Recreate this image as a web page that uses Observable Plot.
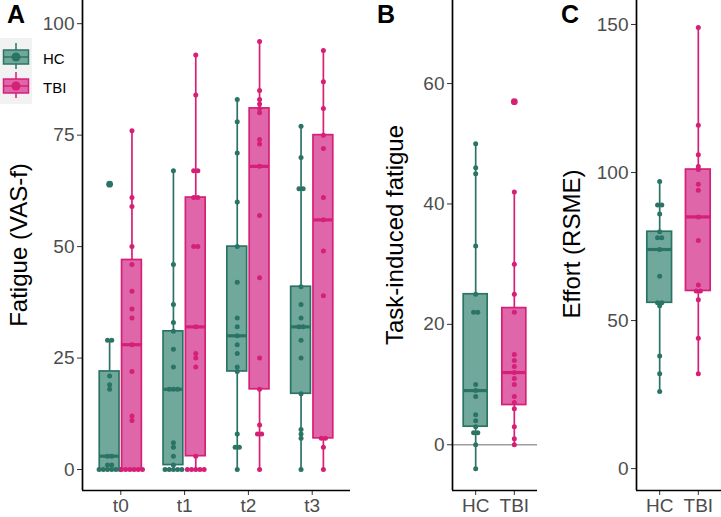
<!DOCTYPE html>
<html><head><meta charset="utf-8">
<script src="https://cdn.jsdelivr.net/npm/d3@7"></script>
<script src="https://cdn.jsdelivr.net/npm/@observablehq/plot@0.6"></script>
<style>
body{margin:0;background:#fff;font-family:"Liberation Sans",Arial,sans-serif;}
#wrap{position:relative;width:721px;height:517px;overflow:hidden;background:#fff;}
.panel{position:absolute;top:0;}
.tag{position:absolute;font-weight:bold;font-size:25px;line-height:1;color:#000;}
.ytitle{position:absolute;font-size:24px;line-height:1;color:#000;white-space:nowrap;transform:translate(-50%,-50%) rotate(-90deg);}
.ltext{position:absolute;font-size:15px;line-height:1;color:#000;}
</style></head><body><div id="wrap"></div>
<script>
// ---------- data ----------
const times = ["t0", "t1", "t2", "t3"];
const groups = ["HC", "TBI"];

// Panel A: fatigue (VAS-f) individual values per time point
const fatigueHC = [
  [0,0,0,0,0,0,1,1,3,3,18,19,21,29,29,64],
  [0,0,0,0,0,1,3,5,6,18,18,18,23,27,31,33,37,46,67],
  [0,5,5,8,22,23,26,28,30,32,34,42,50,60,71,78,83],
  [0,7,8,9,17,25,29,32,32,34,37,41,63,63,70,77]
];
const fatigueTBI = [
  [0,0,0,0,0,0,11,12,22,28,34,36,40,46,50,59,61,76],
  [0,0,0,0,0,3,23,25,26,32,50,50,61,61,67,67,84,93],
  [0,8,8,10,18,25,43,57,68,73,74,80,81,82,83,85,96],
  [0,5,7,7,39,49,56,61,72,75,81,87,94]
];
// box stats: [lower whisker, Q1, median, Q3, upper whisker]
const fatigueBoxHC = [[0,0,3,22,29],[0,1,18,31,67],[0,22,30,50,83],[0,17,32,41,77]];
const fatigueBoxTBI = [[0,0,28,47,76],[0,3,32,61,93],[0,18,68,81,96],[0,7,56,75,94]];
const fatigueOutHC = [[64],[],[],[]];
const fatigueOutTBI = [[],[],[],[]];

// Panel B: task-induced fatigue
const taskHC = [-4,0,2,2,3,4,5,8,9,10,22,22,25,33,45,46,50];
const taskTBI = [0,1,3,6,7,8,10,11,12,13,14,15,22,25,30,42,57];
const taskBoxHC = [-4,3,9,25,50];
const taskBoxTBI = [0,6.6,12,22.7,42];
const taskOutHC = [];
const taskOutTBI = [57];

// Panel C: effort (RSME)
const effortHC = [26,32,38,55,56,56,65,74,78,78,80,86,89,89,97];
const effortTBI = [32,44,57,60,60,62,77,85,94,96,101,102,106,116,149];
const effortBoxHC = [26,56,74,80,97];
const effortBoxTBI = [32,60,85,101,149];

// ---------- styles ----------
const strokeCol = ["#2b7465", "#d61f76"];
const fillCol = ["#70a99c", "#e066aa"];

// ---------- helpers ----------
function makeEntries(list) {
  // list: [{xc, half, g, values, box, out}]
  return list;
}
function buildMarks(entries, step) {
  const whiskers = [], boxes = [], dots = [], outs = [];
  for (const e of entries) {
    const [lo, q1, med, q3, hi] = e.box;
    whiskers.push({x: e.xc, y1: lo, y2: q1, g: e.g});
    whiskers.push({x: e.xc, y1: q3, y2: hi, g: e.g});
    boxes.push({x1: e.xc - e.half, x2: e.xc + e.half, q1, q3, med, g: e.g});
    const counts = d3.group(e.values, v => v);
    for (const [v, arr] of counts) {
      const k = arr.length;
      arr.forEach((_, i) => dots.push({x: e.xc + (i - (k - 1) / 2) * step, y: v, g: e.g}));
    }
    for (const o of e.out) outs.push({x: e.xc, y: o, g: e.g});
  }
  return {whiskers, boxes, dots, outs};
}
function panel({entries, xDomain, xTicks, xFmt, yDomain, yTicks, width, mL, mR, stepPx, zeroLine}) {
  const plotW = width - mL - mR;
  const step = stepPx * (xDomain[1] - xDomain[0]) / plotW;
  const m = buildMarks(entries, step);
  return Plot.plot({
    width, height: 517,
    marginLeft: mL, marginRight: mR, marginTop: 0, marginBottom: 27,
    style: {fontSize: "19px", fontFamily: "Liberation Sans, Arial, sans-serif", color: "#4d4d4d", background: "transparent", overflow: "visible"},
    x: {domain: xDomain},
    y: {domain: yDomain},
    color: {type: "identity"},
    marks: [
      zeroLine ? Plot.ruleY([0], {stroke: "#9e9e9e", strokeWidth: 1.6}) : null,
      Plot.ruleX(m.whiskers, {x: "x", y1: "y1", y2: "y2", stroke: d => strokeCol[d.g], strokeWidth: 1.7}),
      Plot.rect(m.boxes, {x1: "x1", x2: "x2", y1: "q1", y2: "q3", fill: d => fillCol[d.g], stroke: d => strokeCol[d.g], strokeWidth: 1.7}),
      Plot.ruleY(m.boxes, {y: "med", x1: "x1", x2: "x2", stroke: d => strokeCol[d.g], strokeWidth: 3.2}),
      Plot.dot(m.dots, {x: "x", y: "y", r: 2.5, fill: d => strokeCol[d.g], stroke: "none"}),
      Plot.dot(m.outs, {x: "x", y: "y", r: 3.4, fill: d => strokeCol[d.g], stroke: "none"}),
      Plot.axisY({ticks: yTicks, tickSize: 5, tickPadding: 3, label: null, stroke: "#333"}),
      Plot.axisX({ticks: xTicks, tickFormat: xFmt, tickSize: 5, tickPadding: 3, label: null, stroke: "#333"}),
      Plot.ruleX([xDomain[0]], {stroke: "#000", strokeWidth: 1.7}),
      Plot.ruleY([yDomain[0]], {stroke: "#000", strokeWidth: 1.7})
    ]
  });
}

// ---------- build ----------
const wrap = document.getElementById("wrap");
function place(el, left) { el.classList.add("panel"); el.style.left = left + "px"; wrap.appendChild(el); }

const entriesA = [];
times.forEach((t, i) => {
  entriesA.push({xc: i - 0.175, half: 0.155, g: 0, values: fatigueHC[i], box: fatigueBoxHC[i], out: fatigueOutHC[i]});
  entriesA.push({xc: i + 0.175, half: 0.155, g: 1, values: fatigueTBI[i], box: fatigueBoxTBI[i], out: fatigueOutTBI[i]});
});
place(panel({entries: entriesA, xDomain: [-0.6, 3.6], xTicks: [0,1,2,3], xFmt: i => times[i],
  yDomain: [-4.7, 105.2], yTicks: [0,25,50,75,100], width: 360, mL: 82, mR: 10, stepPx: 4.2}), 0);

const entriesB = [
  {xc: 0, half: 0.31, g: 0, values: taskHC, box: taskBoxHC, out: taskOutHC},
  {xc: 1, half: 0.31, g: 1, values: taskTBI, box: taskBoxTBI, out: taskOutTBI}
];
place(panel({entries: entriesB, xDomain: [-0.6, 1.6], xTicks: [0,1], xFmt: i => groups[i],
  yDomain: [-7.6, 73.8], yTicks: [0,20,40,60], width: 180, mL: 92, mR: 3, stepPx: 4.2, zeroLine: true}), 360);

const entriesC = [
  {xc: 0, half: 0.32, g: 0, values: effortHC, box: effortBoxHC, out: []},
  {xc: 1, half: 0.32, g: 1, values: effortTBI, box: effortBoxTBI, out: []}
];
place(panel({entries: entriesC, xDomain: [-0.6, 1.6], xTicks: [0,1], xFmt: i => groups[i],
  yDomain: [-7.4, 158.1], yTicks: [0,50,100,150], width: 181, mL: 96, mR: 0, stepPx: 4.2}), 540);

// titles and tags
function addDiv(cls, text, css) {
  const d = document.createElement("div"); d.className = cls; d.textContent = text;
  Object.assign(d.style, css); wrap.appendChild(d); return d;
}
addDiv("tag", "A", {left: "7px", top: "2px"});
addDiv("tag", "B", {left: "377px", top: "2px"});
addDiv("tag", "C", {left: "561px", top: "2px"});
addDiv("ytitle", "Fatigue (VAS-f)", {left: "19px", top: "245px"});
addDiv("ytitle", "Task-induced fatigue", {left: "395px", top: "235px"});
addDiv("ytitle", "Effort (RSME)", {left: "572px", top: "244px"});

// legend
const leg = document.createElement("div");
leg.style.cssText = "position:absolute;left:0;top:38px;width:32px;height:66px;background:#f2f2f2;";
wrap.appendChild(leg);
const ns = "http://www.w3.org/2000/svg";
const lsvg = document.createElementNS(ns, "svg");
lsvg.setAttribute("width", 32); lsvg.setAttribute("height", 66);
lsvg.style.cssText = "position:absolute;left:0;top:38px;";
groups.forEach((g, i) => {
  const cy = 19 + i * 29;
  const add = (tag, attrs) => { const e = document.createElementNS(ns, tag); for (const k in attrs) e.setAttribute(k, attrs[k]); lsvg.appendChild(e); };
  add("line", {x1: 16, x2: 16, y1: cy - 14, y2: cy + 12, stroke: strokeCol[i], "stroke-width": 1.5});
  add("rect", {x: 3.5, y: cy - 7, width: 25, height: 14, fill: fillCol[i], stroke: strokeCol[i], "stroke-width": 1.5});
  add("line", {x1: 3.5, x2: 28.5, y1: cy, y2: cy, stroke: strokeCol[i], "stroke-width": 1.5});
  add("circle", {cx: 16, cy: cy, r: 4.5, fill: strokeCol[i]});
});
wrap.appendChild(lsvg);
addDiv("ltext", "HC", {left: "43px", top: "51px"});
addDiv("ltext", "TBI", {left: "43px", top: "80px"});
</script>
</body></html>
